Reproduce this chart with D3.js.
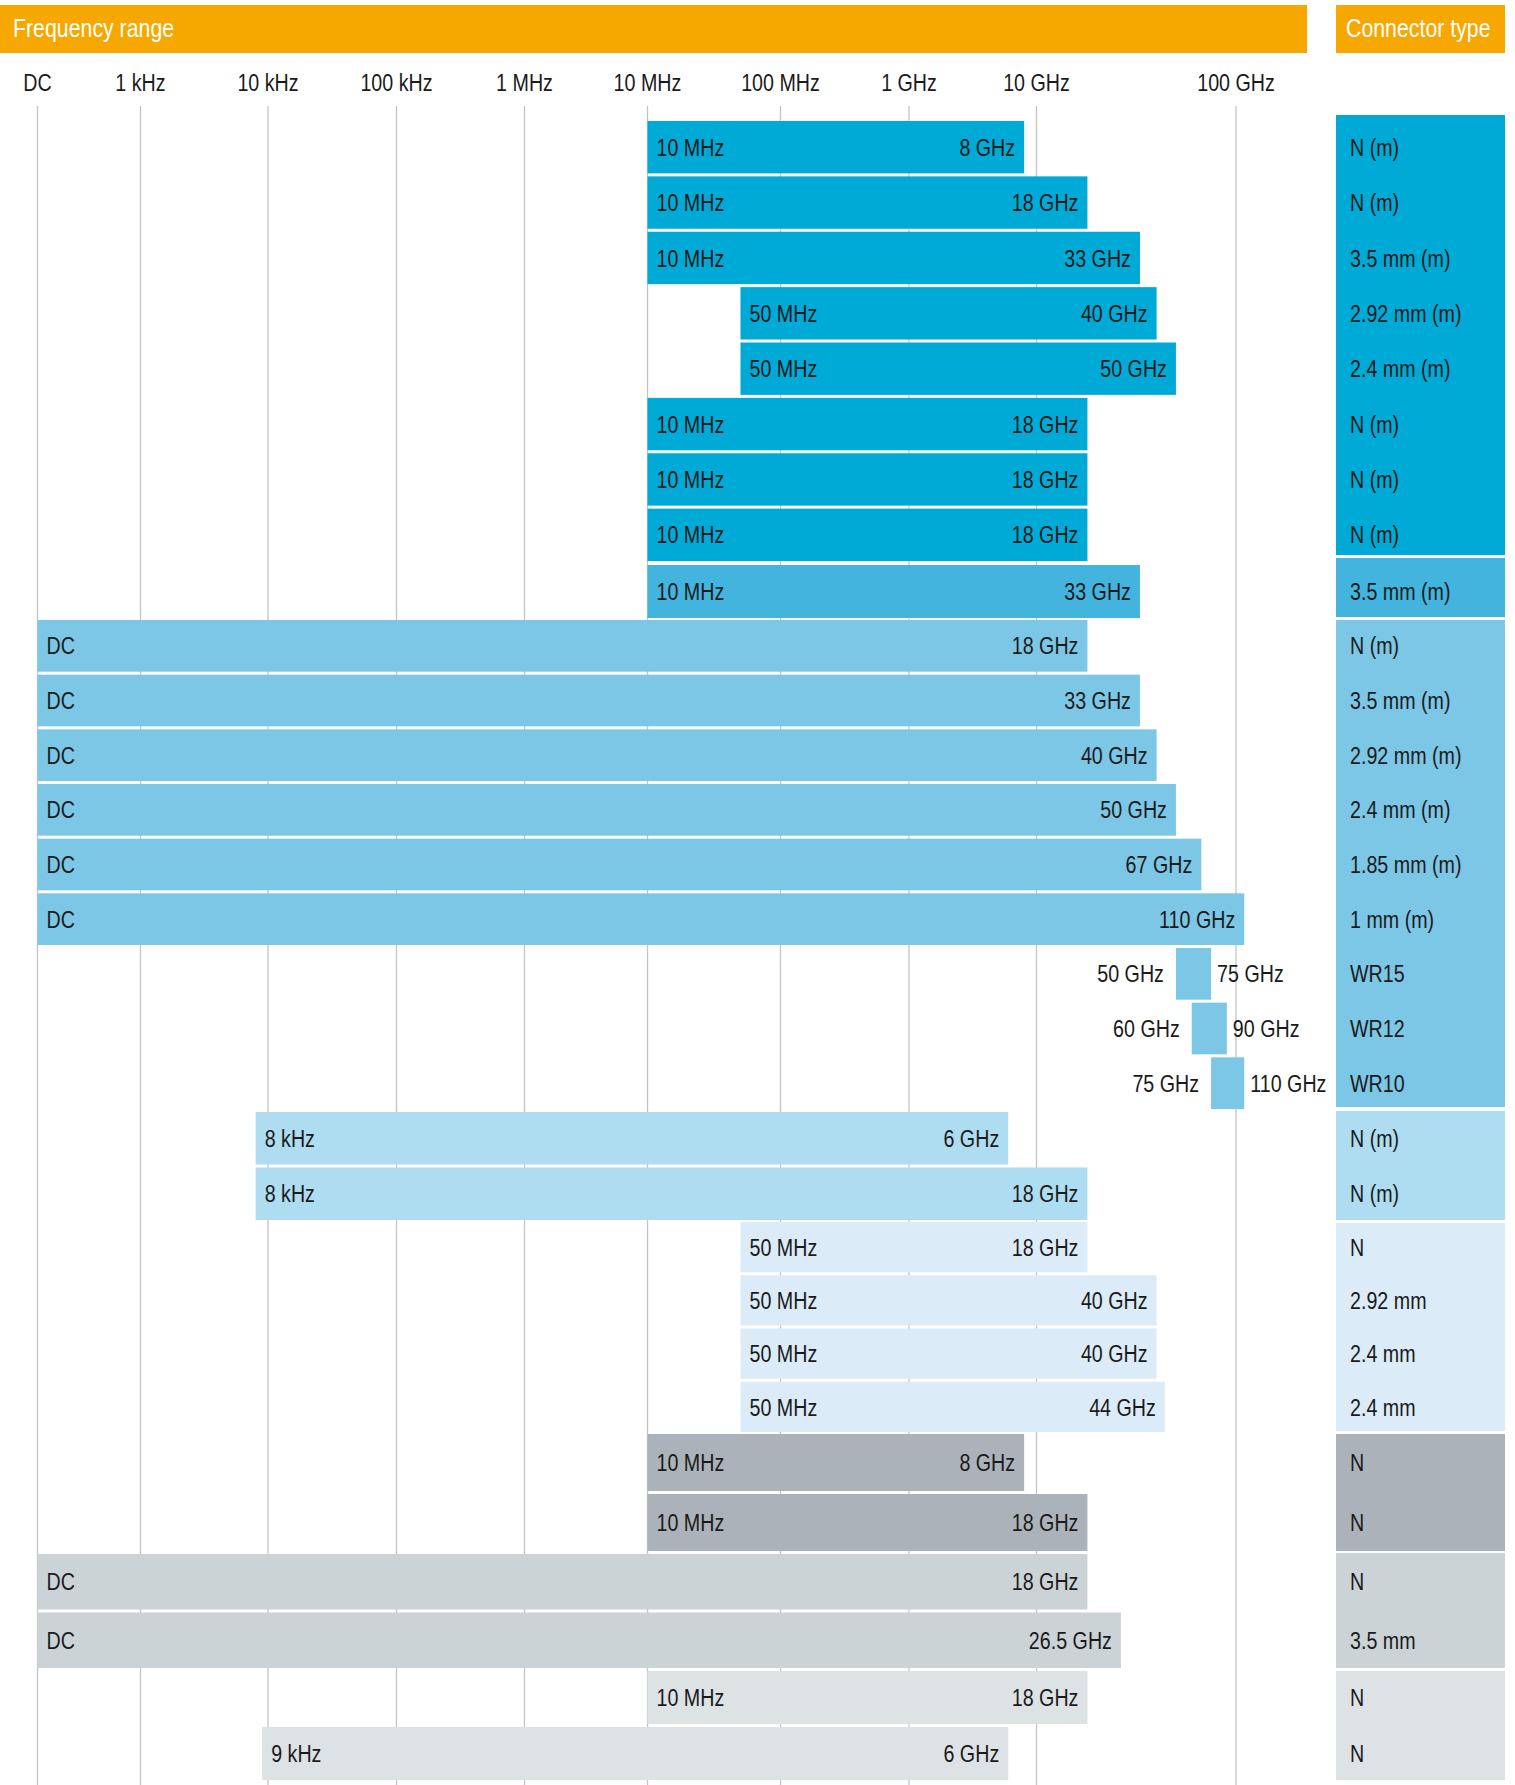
<!DOCTYPE html>
<html>
<head>
<meta charset="utf-8">
<script src="https://cdn.jsdelivr.net/npm/d3@7"></script>
<style>
  html, body { margin: 0; padding: 0; background: #fff; }
  svg { display: block; }
  text { font-family: "Liberation Sans", Arial, sans-serif; fill: #1a1a1a; }
</style>
</head>
<body>
<svg id="chart" width="1515" height="1785"></svg>
<script>
// axis stops (0 = DC)
const tickFreq = [0, 1e3, 1e4, 1e5, 1e6, 1e7, 1e8, 1e9, 1e10, 1e11];
const tickLabels = ["DC", "1 kHz", "10 kHz", "100 kHz", "1 MHz", "10 MHz", "100 MHz", "1 GHz", "10 GHz", "100 GHz"];

// one entry per row, top to bottom
const startFreq = [10e6, 10e6, 10e6, 50e6, 50e6, 10e6, 10e6, 10e6, 10e6,
  0, 0, 0, 0, 0, 0, 50e9, 60e9, 75e9,
  8e3, 8e3,
  50e6, 50e6, 50e6, 50e6,
  10e6, 10e6,
  0, 0,
  10e6, 9e3];
const stopFreq = [8e9, 18e9, 33e9, 40e9, 50e9, 18e9, 18e9, 18e9, 33e9,
  18e9, 33e9, 40e9, 50e9, 67e9, 110e9, 75e9, 90e9, 110e9,
  6e9, 18e9,
  18e9, 40e9, 40e9, 44e9,
  8e9, 18e9,
  18e9, 26.5e9,
  18e9, 6e9];
const connectors = ["N (m)", "N (m)", "3.5 mm (m)", "2.92 mm (m)", "2.4 mm (m)", "N (m)", "N (m)", "N (m)", "3.5 mm (m)",
  "N (m)", "3.5 mm (m)", "2.92 mm (m)", "2.4 mm (m)", "1.85 mm (m)", "1 mm (m)", "WR15", "WR12", "WR10",
  "N (m)", "N (m)",
  "N", "2.92 mm", "2.4 mm", "2.4 mm",
  "N", "N",
  "N", "3.5 mm",
  "N", "N"];
const rowGroup = [0, 0, 0, 0, 0, 0, 0, 0, 1, 2, 2, 2, 2, 2, 2, 2, 2, 2, 3, 3, 4, 4, 4, 4, 5, 5, 6, 6, 7, 7];

// layout / style
const groupColors = ["#00aad6", "#42b4dd", "#7cc6e6", "#aedcf0", "#dbecf8", "#abb2b9", "#cbd3d7", "#dde2e5"];
const groupBars = [[121, 561], [565, 618], [620, 1109], [1112, 1220], [1222, 1432], [1434, 1551], [1554, 1668], [1671, 1780]];
const groupBlocks = [[115, 555], [558, 617], [620, 1107], [1111, 1220], [1223, 1431], [1434, 1551], [1553, 1668], [1671, 1780]];
const tickX = [37.5, 140.5, 268, 396.5, 524.5, 647.5, 780.5, 909, 1036.5, 1236];

const W = 1515, H = 1785;
const fs = 24, gap = 3, pad = 9, squeeze = 0.82;
const connX = [1336, 1505];

let svg = d3.select("#chart");

let lg = f => f > 0 ? Math.log10(f) : 2;
let x = d3.scaleLinear().domain(tickFreq.map(lg)).range(tickX);
let xf = f => x(lg(f));

let fmt = function(f) {
	if (f === 0) return "DC";
	if (f >= 1e9) return (f / 1e9) + " GHz";
	if (f >= 1e6) return (f / 1e6) + " MHz";
	return (f / 1e3) + " kHz";
}

// condensed text: place at (tx, ty) and squeeze horizontally
let at = (tx, ty) => "translate(" + tx + "," + ty + ") scale(" + squeeze + ",1)";

let rows = startFreq.map((s, i) => ({i: i, start: s, stop: stopFreq[i], conn: connectors[i], g: rowGroup[i]}));

// y position of each row, band per group
d3.groups(rows, d => d.g).forEach(([g, rs]) => {
	let band = d3.scaleBand().domain(rs.map(d => d.i)).range([groupBars[g][0], groupBars[g][1] + gap]);
	rs.forEach(d => { d.y = band(d.i); d.h = band.bandwidth() - gap; });
});

// header
svg.append("rect").attr("x", 0).attr("y", 5).attr("width", 1307).attr("height", 48).attr("fill", "#f7a800");
svg.append("rect").attr("x", connX[0]).attr("y", 5).attr("width", connX[1] - connX[0]).attr("height", 48).attr("fill", "#f7a800");
svg.append("text").attr("transform", at(13, 37)).style("fill", "#fff").style("font-size", "26px").text("Frequency range");
svg.append("text").attr("transform", at(1346, 37)).style("fill", "#fff").style("font-size", "26px").text("Connector type");

// grid + tick labels
svg.append("g").selectAll("line").data(tickFreq).join("line")
	.attr("x1", d => xf(d)).attr("x2", d => xf(d))
	.attr("y1", 106).attr("y2", H)
	.attr("stroke", "#c4c4c4").attr("stroke-width", 1.3);

svg.append("g").selectAll("text").data(tickFreq).join("text")
	.attr("transform", d => at(xf(d), 91))
	.attr("text-anchor", "middle")
	.style("font-size", fs + "px")
	.text((d, i) => tickLabels[i]);

// connector blocks
svg.append("g").selectAll("rect").data(groupBlocks).join("rect")
	.attr("x", connX[0]).attr("width", connX[1] - connX[0])
	.attr("y", d => d[0]).attr("height", d => d[1] - d[0])
	.attr("fill", (d, i) => groupColors[i]);

svg.append("g").selectAll("text").data(rows).join("text")
	.attr("transform", d => at(connX[0] + 14, d.y + d.h / 2))
	.attr("dy", "0.36em")
	.style("font-size", fs + "px")
	.text(d => d.conn);

// bars
let bar = svg.append("g").selectAll("g").data(rows).join("g");

bar.append("rect")
	.attr("x", d => xf(d.start))
	.attr("y", d => d.y)
	.attr("width", d => xf(d.stop) - xf(d.start))
	.attr("height", d => d.h)
	.attr("fill", d => groupColors[d.g]);

// labels inside the bar, or either side of it when it is too short
let inside = d => xf(d.stop) - xf(d.start) > 160;

bar.append("text")
	.attr("transform", d => at(inside(d) ? xf(d.start) + pad : xf(d.start) - 12, d.y + d.h / 2))
	.attr("dy", "0.36em")
	.attr("text-anchor", d => inside(d) ? "start" : "end")
	.style("font-size", fs + "px")
	.text(d => fmt(d.start));

bar.append("text")
	.attr("transform", d => at(inside(d) ? xf(d.stop) - pad : xf(d.stop) + 6, d.y + d.h / 2))
	.attr("dy", "0.36em")
	.attr("text-anchor", d => inside(d) ? "end" : "start")
	.style("font-size", fs + "px")
	.text(d => fmt(d.stop));
</script>
</body>
</html>
